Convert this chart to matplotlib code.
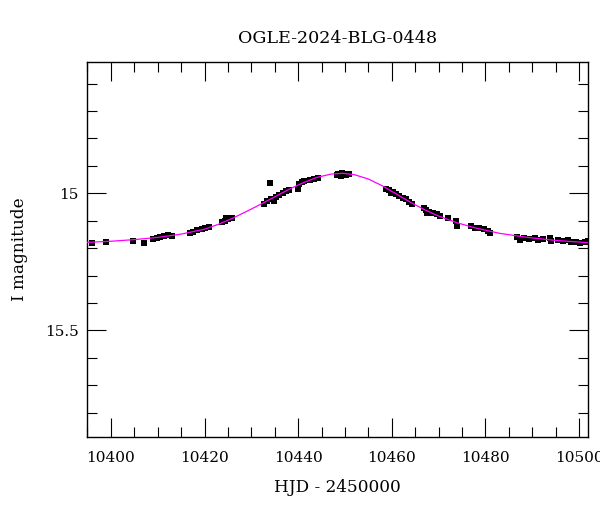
import numpy as np
import matplotlib
matplotlib.use("Agg")
import matplotlib.pyplot as plt
from matplotlib.ticker import MultipleLocator

plt.rcParams['font.family'] = ['DejaVu Serif']

# --- data ---
title = "OGLE-2024-BLG-0448"

# observed points (HJD - 2450000, I mag)
obs_t = [10395.9, 10398.9, 10404.8, 10407.0,
         10408.9, 10409.8, 10410.5, 10411.4, 10412.3, 10413.0,
         10416.9, 10417.6, 10418.5, 10419.4, 10420.2, 10421.0,
         10423.7, 10424.4, 10424.5, 10425.1, 10425.9,
         10434.0,
         10432.8, 10433.3, 10434.2, 10434.8, 10435.3, 10436.0, 10436.7, 10437.4, 10438.0,
         10440.0, 10440.2, 10440.8, 10441.3,
         10442.5, 10443.4, 10444.2,
         10448.3, 10448.6, 10449.2, 10449.3, 10449.8, 10450.2, 10450.9,
         10458.8, 10459.5, 10459.9, 10460.2, 10460.9, 10461.6, 10462.3, 10463.0, 10463.7, 10464.3,
         10466.8, 10467.3, 10467.6, 10468.0, 10468.7, 10469.7, 10470.2,
         10471.9, 10473.7, 10473.9,
         10476.9, 10477.8, 10478.7, 10479.6, 10480.5, 10481.0,
         10486.8, 10487.3, 10488.3, 10489.2,
         10490.5, 10491.2, 10492.2, 10493.7, 10494.0, 10495.4, 10496.5, 10497.6,
         10498.3, 10499.4, 10500.3, 10501.2, 10501.9]
obs_mag = [15.182, 15.177, 15.174, 15.180,
           15.167, 15.164, 15.159, 15.156, 15.153, 15.155,
           15.146, 15.140, 15.135, 15.130, 15.125, 15.123,
           15.106, 15.101, 15.091, 15.095, 15.089,
           14.964,
           15.040, 15.028, 15.022, 15.028, 15.012, 15.006, 15.000, 14.992, 14.987,
           14.984, 14.967, 14.960, 14.955,
           14.951, 14.948, 14.943,
           14.933, 14.931, 14.937, 14.927, 14.931, 14.933, 14.930,
           14.983, 14.988, 15.000, 14.994, 15.004, 15.009, 15.016, 15.022, 15.030, 15.040,
           15.052, 15.061, 15.072, 15.067, 15.071, 15.077, 15.082,
           15.091, 15.101, 15.118,
           15.119, 15.125, 15.128, 15.131, 15.136, 15.146,
           15.158, 15.170, 15.162, 15.167,
           15.162, 15.170, 15.167, 15.164, 15.174, 15.172, 15.174, 15.172,
           15.179, 15.177, 15.182, 15.179, 15.174]

# model curve, read at a set of epochs
model_t = [10394.9, 10400, 10405, 10410, 10415, 10420, 10423, 10426, 10429, 10432,
           10435, 10438, 10441, 10444, 10447, 10449.5, 10452, 10455, 10458, 10461,
           10464, 10467, 10470, 10474, 10478, 10483, 10489, 10495, 10501.8]
model_mag = [15.179, 15.175, 15.169, 15.161, 15.149, 15.131, 15.113, 15.091, 15.066, 15.040,
             15.013, 14.986, 14.962, 14.942, 14.930, 14.927, 14.932, 14.948, 14.973, 15.003,
             15.033, 15.060, 15.083, 15.108, 15.127, 15.146, 15.161, 15.172, 15.180]

# --- figure ---
fig = plt.figure(figsize=(6.0, 5.12), dpi=100)
ax = fig.add_axes([0.145, 0.1471, 0.8342, 0.7318])

ax.plot(obs_t, obs_mag, 's', color='black', ms=4.0, mew=0, zorder=2)
ax.plot(model_t, model_mag, '-', color='#ff00ff', lw=0.9, zorder=3)

ax.set_xlim(10394.9, 10501.8)
ax.set_ylim(15.888, 14.521)

ax.xaxis.set_major_locator(MultipleLocator(20))
ax.xaxis.set_minor_locator(MultipleLocator(5))
ax.yaxis.set_major_locator(MultipleLocator(0.5))
ax.yaxis.set_minor_locator(MultipleLocator(0.1))

ax.tick_params(which='both', direction='in', top=True, right=True, width=0.8, labelsize=11)
ax.tick_params(which='major', length=13.5)
ax.tick_params(which='minor', length=7)
ax.tick_params(axis='x', which='major', pad=10.5)
ax.tick_params(axis='y', which='major', pad=6)
ax.yaxis.set_major_formatter(plt.FuncFormatter(lambda v, p: f"{v:g}"))

for s in ax.spines.values():
    s.set_linewidth(1.0)

ax.set_title(title, fontsize=12.6, pad=14)
ax.set_xlabel("HJD - 2450000", fontsize=12.2, va='top')
ax.set_ylabel("I magnitude", fontsize=12.2)
ax.xaxis.set_label_coords(0.5, -0.113)
ax.yaxis.set_label_coords(-0.118, 0.5)

fig.savefig("out.png", dpi=100)
